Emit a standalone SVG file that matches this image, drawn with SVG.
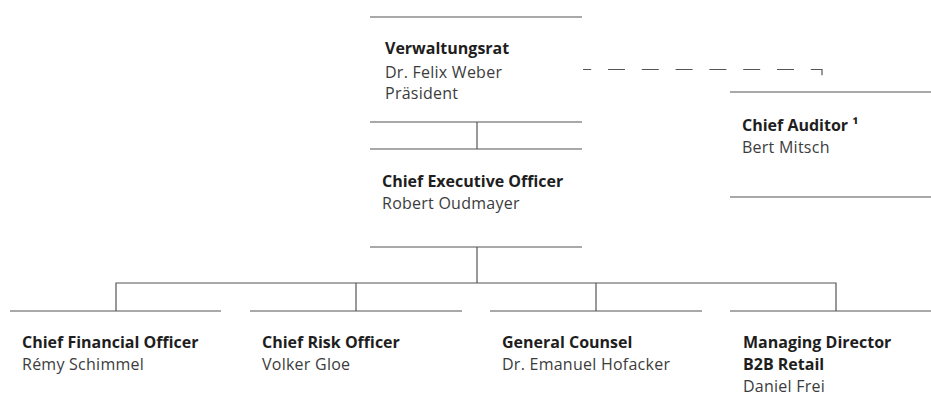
<svg xmlns="http://www.w3.org/2000/svg" width="931" height="408" viewBox="0 0 931 408">
<style>
.ln{stroke:#555;stroke-width:1.2;fill:none}
.t{font-family:"Open Sans","Liberation Sans",sans-serif;font-size:16px;fill:#1e1e1e;font-weight:bold}
.n{font-family:"Open Sans","Liberation Sans",sans-serif;font-size:16px;fill:#3c3c3c;letter-spacing:0.25px}
</style>
<rect width="931" height="408" fill="#fff"/>
<g id="connectors" class="ln">
<path d="M477 122V149"/>
<path d="M477 247V283"/>
<path d="M116 311V283H836V311"/>
<path d="M356 283V311"/>
<path d="M596 283V311"/>
<path d="M583 69.5H822V92" stroke-dasharray="17 16.8" stroke-dashoffset="8.8"/>
</g>
<g id="verwaltungsrat">
<path class="ln" d="M370 17H582M370 122H582"/>
<text class="t" x="385" y="54">Verwaltungsrat</text>
<text class="n" x="385" y="77.5">Dr. Felix Weber</text>
<text class="n" x="385" y="98.5">Präsident</text>
</g>
<g id="ceo">
<path class="ln" d="M370 149H582M370 247H582"/>
<text class="t" x="382" y="187">Chief Executive Officer</text>
<text class="n" x="382" y="208.5">Robert Oudmayer</text>
</g>
<g id="auditor">
<path class="ln" d="M730 92H931M730 197H931"/>
<text class="t" x="742" y="131">Chief Auditor ¹</text>
<text class="n" x="742" y="153">Bert Mitsch</text>
</g>
<g id="cfo">
<path class="ln" d="M10 311H221"/>
<text class="t" x="22" y="347.5">Chief Financial Officer</text>
<text class="n" x="22" y="370">Rémy Schimmel</text>
</g>
<g id="cro">
<path class="ln" d="M250 311H462"/>
<text class="t" x="262" y="347.5">Chief Risk Officer</text>
<text class="n" x="262" y="370">Volker Gloe</text>
</g>
<g id="counsel">
<path class="ln" d="M490 311H702"/>
<text class="t" x="502" y="347.5">General Counsel</text>
<text class="n" x="502" y="370">Dr. Emanuel Hofacker</text>
</g>
<g id="b2b">
<path class="ln" d="M730 311H931"/>
<text class="t" x="743" y="347.5">Managing Director</text>
<text class="t" x="743" y="370">B2B Retail</text>
<text class="n" x="743" y="392">Daniel Frei</text>
</g>
</svg>
